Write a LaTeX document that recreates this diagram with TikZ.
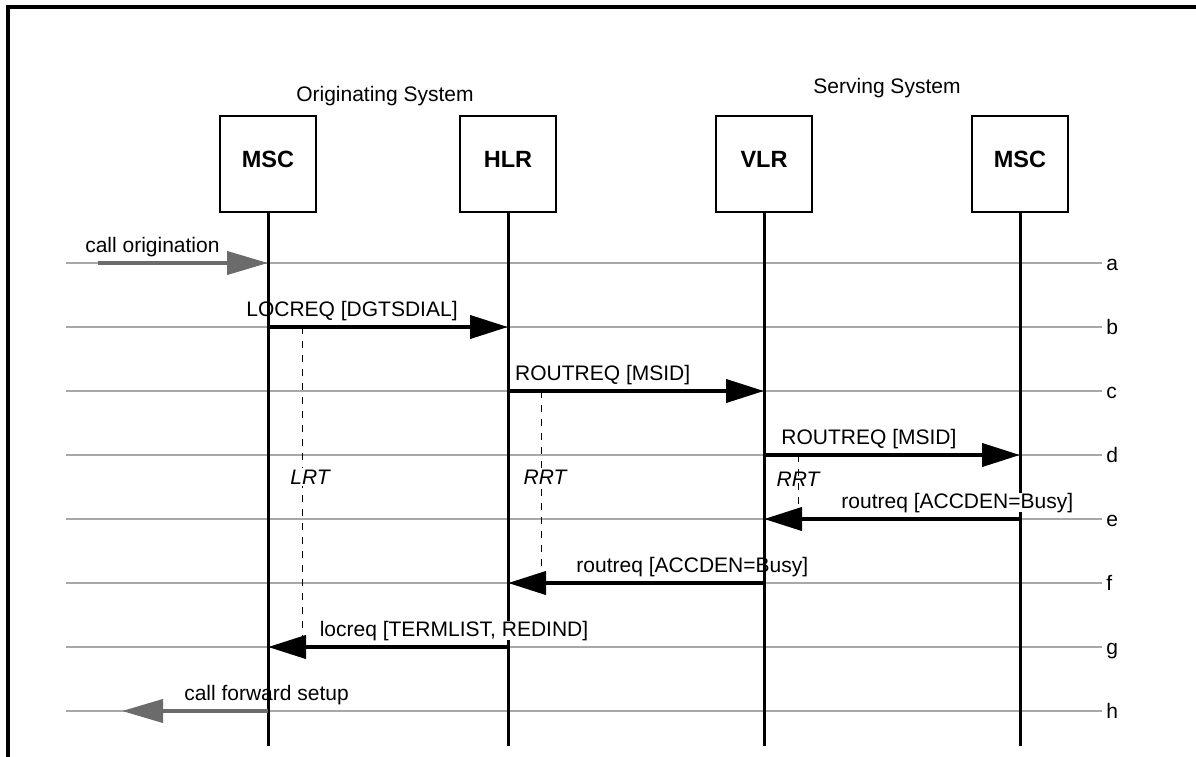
\documentclass[tikz,border=0pt]{standalone}
\usepackage{fontspec}
\setmainfont{Liberation Sans}
\usetikzlibrary{arrows.meta,positioning,calc}
\definecolor{figgrey}{gray}{0.42}
\definecolor{figrule}{gray}{0.66}
\newcommand{\msgfont}{\fontsize{21}{25}\selectfont}
\tikzset{
  entity/.style={
    rectangle, draw=black, line width=2pt,
    minimum width=96pt, minimum height=96pt, inner sep=0pt,
    text depth=10pt, font=\fontsize{23.5}{27}\selectfont\bfseries
  },
  lifeline/.style={line width=3pt, draw=black},
  rowline/.style={line width=2.5pt, draw=figrule},
  rowlabel/.style={anchor=base west, yshift=-7pt, inner sep=0pt, xshift=3pt, font=\msgfont},
  msg/.style={line width=4pt, draw=black, -{Triangle[length=38pt,width=23pt]}},
  extmsg/.style={msg, draw=figgrey, -{Triangle[length=41pt,width=23pt]}},
  msglabel/.style={anchor=base, yshift=11pt, inner sep=0pt, font=\msgfont},
  timer/.style={line width=1pt, draw=black, dash pattern=on 7pt off 7pt},
  timerlabel/.style={fill=white, inner sep=2pt, font=\msgfont\itshape}
}
\begin{document}
\begin{tikzpicture}[x=1pt, y=-1pt]
  \useasboundingbox (0,0) rectangle (1196,757);

  % frame (top and left only)
  \draw[line width=3.5pt] (8,757) -- (8,7) -- (1196,7);

  % systems
  \node[font=\msgfont] (orig) at (385,96) {Originating System};
  \node[font=\msgfont] (serv) at (887,88) {Serving System};

  % entities
  \node[entity] (omsc) at (268,164) {MSC};
  \node[entity] (hlr)  at (508,164) {HLR};
  \node[entity] (vlr)  at (764,164) {VLR};
  \node[entity] (smsc) at (1020,164) {MSC};

  % time rows a..h
  \foreach \r [count=\i from 0] in {a,b,c,d,e,f,g,h} {
    \coordinate (row\r) at (66,263+64*\i);
    \draw[rowline] (row\r) -- ++(1036,0) node[rowlabel] {\r};
  }

  % lifelines
  \coordinate (bottom) at (0,746);
  \foreach \n in {omsc,hlr,vlr,smsc}
    \draw[lifeline] (\n.south) -- (\n |- bottom);

  % timers
  \coordinate (lrtstart) at ($(omsc |- rowb)+(34,0)$);
  \coordinate (rrtstart) at ($(hlr |- rowc)+(33,0)$);
  \coordinate (vrtstart) at ($(vlr |- rowd)+(34,0)$);
  \draw[timer] (lrtstart) -- (lrtstart |- rowg);
  \draw[timer] (rrtstart) -- (rrtstart |- rowf);
  \draw[timer] (vrtstart) -- (vrtstart |- rowe);
  \node[timerlabel] (lrt) at (310,477) {LRT};
  \node[timerlabel] (rrt) at (545,477) {RRT};
  \node[timerlabel, fill=none] (vrt) at (798,479) {RRT};

  % messages
  \coordinate (caller) at (98,263);
  \coordinate (callee) at (122,711);
  \draw[extmsg] (caller) -- node[msglabel, pos=0.32] {call origination} (omsc |- rowa);
  \draw[msg] (omsc |- rowb) -- node[msglabel, pos=0.35] {LOCREQ [DGTSDIAL]} (hlr |- rowb);
  \draw[msg] (hlr |- rowc) -- node[msglabel, pos=0.37] {ROUTREQ [MSID]} (vlr |- rowc);
  \draw[msg] (vlr |- rowd) -- node[msglabel, pos=0.41] {ROUTREQ [MSID]} (smsc |- rowd);
  \draw[msg] (smsc |- rowe) -- node[msglabel, fill=white, pos=0.245] {routreq [ACCDEN=Busy]} (vlr |- rowe);
  \draw[msg] (vlr |- rowf) -- node[msglabel, pos=0.28] {routreq [ACCDEN=Busy]} (hlr |- rowf);
  \draw[msg] (hlr |- rowg) -- node[msglabel, fill=white, pos=0.225] {locreq [TERMLIST, REDIND]} (omsc |- rowg);
  \draw[extmsg] (omsc |- rowh) -- node[msglabel, pos=0.01] {call forward setup} (callee);

\end{tikzpicture}
\end{document}
